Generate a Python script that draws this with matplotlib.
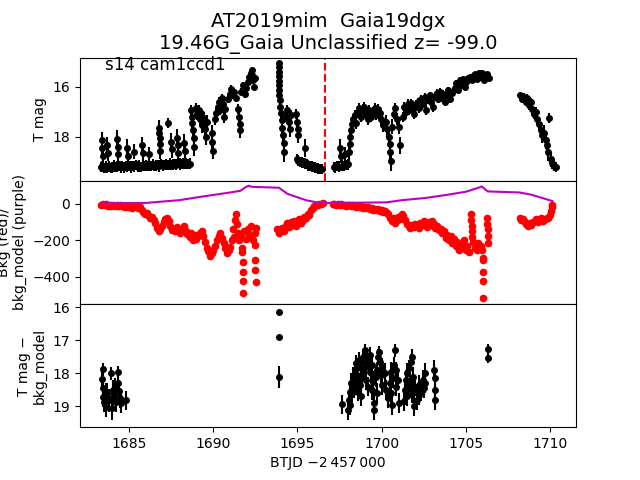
import numpy as np
import matplotlib
matplotlib.use("Agg")
import matplotlib.pyplot as plt

# ---- data (BTJD, T mag, error) ----
# orbit 1, quiet part
quiet_1 = [
    (1683.3, 19.22, 0.20), (1683.4, 19.18, 0.22), (1683.5, 19.25, 0.20), (1683.6, 19.20, 0.24), (1683.7, 19.23, 0.20),
    (1683.8, 19.19, 0.22), (1683.9, 19.24, 0.20), (1684.0, 19.21, 0.22), (1684.1, 19.17, 0.24), (1684.2, 19.22, 0.20),
    (1684.3, 19.20, 0.22), (1684.4, 19.16, 0.20), (1684.5, 19.21, 0.24), (1684.6, 19.18, 0.20), (1684.7, 19.22, 0.22),
    (1684.8, 19.15, 0.20), (1684.9, 19.19, 0.22), (1685.0, 19.17, 0.20), (1685.1, 19.21, 0.24), (1685.2, 19.16, 0.20),
    (1685.3, 19.18, 0.22), (1685.4, 19.14, 0.20), (1685.5, 19.19, 0.22), (1685.6, 19.16, 0.24), (1685.7, 19.20, 0.20),
    (1685.8, 19.13, 0.22), (1685.9, 19.17, 0.20), (1686.0, 19.15, 0.22), (1686.1, 19.18, 0.20), (1686.2, 19.12, 0.24),
    (1686.3, 19.16, 0.20), (1686.4, 19.12, 0.22), (1686.5, 19.17, 0.20), (1686.6, 19.14, 0.22), (1686.7, 19.11, 0.20),
    (1686.8, 19.15, 0.24), (1686.9, 19.10, 0.20), (1687.0, 19.14, 0.22), (1687.1, 19.12, 0.20), (1687.2, 19.09, 0.22),
    (1687.3, 19.13, 0.20), (1687.4, 19.08, 0.24), (1687.5, 19.12, 0.20), (1687.6, 19.10, 0.22), (1687.7, 19.07, 0.20),
    (1687.8, 19.11, 0.22), (1687.9, 19.06, 0.20), (1688.0, 19.10, 0.24), (1688.1, 19.08, 0.20), (1688.2, 19.05, 0.22),
    (1688.3, 19.09, 0.20), (1688.4, 19.06, 0.22), (1688.5, 19.10, 0.20), (1688.6, 19.07, 0.22),
    (1683.38, 18.15, 0.35), (1683.40, 18.45, 0.35), (1683.42, 18.75, 0.30),
    (1683.70, 18.35, 0.35), (1683.72, 18.65, 0.30),
    (1684.29, 18.10, 0.35), (1684.31, 18.40, 0.35), (1684.33, 18.70, 0.30),
    (1684.88, 18.45, 0.35), (1684.91, 18.75, 0.30), (1685.30, 18.60, 0.30),
    (1685.77, 18.35, 0.35), (1685.80, 18.65, 0.30), (1686.19, 18.70, 0.30),
    (1686.76, 17.65, 0.30), (1686.79, 17.85, 0.35), (1686.81, 18.05, 0.35), (1686.83, 18.30, 0.35), (1686.86, 18.55, 0.35),
    (1687.32, 17.45, 0.20), (1687.48, 18.20, 0.35), (1687.52, 18.50, 0.35),
    (1687.86, 18.05, 0.35), (1687.89, 18.35, 0.35), (1687.92, 18.65, 0.30),
    (1688.27, 18.25, 0.35), (1688.30, 18.55, 0.35),
]

# orbit 1, brightening
rise_1 = [
    (1688.70, 16.95, 0.20), (1688.73, 17.20, 0.25), (1688.75, 17.45, 0.30), (1688.79, 17.75, 0.30), (1688.83, 18.05, 0.35), (1688.87, 18.40, 0.35),
    (1689.00, 16.85, 0.20), (1689.05, 17.10, 0.25), (1689.13, 16.95, 0.20), (1689.20, 17.30, 0.25), (1689.27, 17.05, 0.20),
    (1689.35, 17.55, 0.30), (1689.43, 17.25, 0.25), (1689.50, 17.70, 0.30), (1689.57, 18.00, 0.35), (1689.63, 17.40, 0.25),
    (1689.92, 17.85, 0.30), (1689.95, 18.20, 0.35), (1689.97, 18.55, 0.35),
    (1690.12, 17.30, 0.25), (1690.19, 17.05, 0.20), (1690.27, 16.80, 0.20), (1690.35, 16.60, 0.20), (1690.42, 16.95, 0.20),
    (1690.49, 16.45, 0.15), (1690.57, 16.70, 0.20), (1690.65, 17.20, 0.25), (1690.72, 16.90, 0.20),
    (1690.87, 16.50, 0.15), (1690.97, 16.30, 0.15), (1691.07, 16.10, 0.15), (1691.15, 16.35, 0.15), (1691.22, 16.20, 0.15), (1691.32, 16.45, 0.15),
    (1691.47, 16.90, 0.20), (1691.52, 17.20, 0.25), (1691.57, 17.50, 0.25), (1691.59, 17.75, 0.30),
    (1691.67, 16.20, 0.15), (1691.77, 15.95, 0.15), (1691.87, 16.30, 0.15), (1691.95, 16.05, 0.15),
    (1692.07, 15.80, 0.12), (1692.15, 15.60, 0.12), (1692.22, 15.45, 0.10), (1692.27, 15.35, 0.10),
    (1692.32, 15.55, 0.12), (1692.37, 15.75, 0.12), (1692.42, 16.00, 0.12), (1692.47, 15.65, 0.12),
]

# orbit 1, after the gap
fade_1 = [
    (1693.90, 15.05, 0.08), (1693.90, 15.22, 0.08), (1693.91, 15.40, 0.09), (1693.91, 15.58, 0.09), (1693.92, 15.76, 0.10),
    (1693.92, 15.95, 0.10), (1693.93, 16.15, 0.12), (1693.93, 16.35, 0.12), (1693.94, 16.55, 0.14), (1693.95, 16.80, 0.15),
    (1694.02, 17.05, 0.20), (1694.06, 17.35, 0.25), (1694.10, 17.65, 0.30), (1694.14, 17.95, 0.30), (1694.18, 18.25, 0.35), (1694.22, 18.60, 0.40),
    (1694.30, 17.20, 0.20), (1694.40, 16.95, 0.20), (1694.48, 17.40, 0.25), (1694.55, 17.70, 0.30), (1694.60, 17.15, 0.20),
    (1694.93, 17.10, 0.20), (1694.98, 17.40, 0.25), (1695.02, 17.70, 0.30), (1695.06, 17.95, 0.30),
    (1694.95, 18.90, 0.20), (1695.05, 18.95, 0.22), (1695.15, 19.00, 0.20), (1695.25, 19.02, 0.22), (1695.35, 19.06, 0.20),
    (1695.42, 18.45, 0.35), (1695.45, 19.08, 0.22), (1695.55, 19.10, 0.20), (1695.65, 19.13, 0.22), (1695.75, 19.16, 0.20),
    (1695.85, 19.18, 0.22), (1695.95, 19.20, 0.20), (1696.05, 19.22, 0.22), (1696.15, 19.24, 0.20), (1696.25, 19.26, 0.22),
    (1696.35, 19.27, 0.20), (1696.45, 19.28, 0.20),
]

# orbit 2
orbit_2 = [
    (1697.15, 19.20, 0.20), (1697.25, 19.22, 0.22), (1697.35, 19.18, 0.20), (1697.45, 19.20, 0.22), (1697.55, 18.45, 0.35),
    (1697.58, 18.75, 0.30), (1697.65, 19.15, 0.22), (1697.75, 19.18, 0.20), (1697.85, 18.70, 0.30), (1697.90, 19.12, 0.20),
    (1698.00, 19.10, 0.22),
    (1698.05, 18.60, 0.35), (1698.10, 18.30, 0.30), (1698.15, 18.00, 0.30), (1698.20, 17.75, 0.25), (1698.25, 17.50, 0.25),
    (1698.32, 17.30, 0.20), (1698.40, 17.15, 0.20), (1698.48, 17.45, 0.25),
    (1698.58, 17.00, 0.20), (1698.68, 16.85, 0.20), (1698.78, 17.20, 0.20), (1698.88, 16.90, 0.20), (1698.98, 16.80, 0.20),
    (1699.08, 17.10, 0.20), (1699.18, 17.30, 0.25), (1699.28, 16.95, 0.20), (1699.38, 17.20, 0.20), (1699.48, 17.00, 0.20),
    (1699.58, 16.85, 0.20), (1699.68, 17.15, 0.20), (1699.78, 16.90, 0.20), (1699.88, 17.05, 0.20), (1699.98, 17.30, 0.25),
    (1700.08, 17.55, 0.25),
    (1700.27, 17.40, 0.25), (1700.35, 17.70, 0.30), (1700.42, 18.00, 0.30), (1700.47, 18.30, 0.35), (1700.52, 18.60, 0.35),
    (1700.57, 18.95, 0.40), (1700.62, 17.60, 0.30),
    (1700.72, 17.10, 0.20), (1700.82, 16.85, 0.20), (1700.92, 17.30, 0.25), (1701.02, 17.60, 0.30), (1701.07, 18.35, 0.35),
    (1701.25, 17.20, 0.20), (1701.35, 16.80, 0.20), (1701.45, 17.00, 0.20), (1701.55, 16.70, 0.20), (1701.65, 16.95, 0.20),
    (1701.75, 16.65, 0.15), (1701.85, 16.90, 0.20), (1701.95, 17.10, 0.20), (1702.05, 16.75, 0.20), (1702.15, 16.60, 0.15),
    (1702.25, 16.85, 0.20), (1702.35, 16.50, 0.15), (1702.45, 16.70, 0.15), (1702.55, 16.40, 0.15), (1702.65, 16.95, 0.20),
    (1702.75, 16.55, 0.15), (1702.85, 16.35, 0.15), (1702.95, 16.60, 0.15), (1703.05, 16.80, 0.20),
    (1703.17, 16.40, 0.15), (1703.27, 16.25, 0.15), (1703.37, 16.50, 0.15), (1703.47, 16.20, 0.15), (1703.57, 16.45, 0.15),
    (1703.67, 16.30, 0.15), (1703.77, 16.60, 0.15), (1703.87, 16.35, 0.15), (1703.97, 16.15, 0.15), (1704.07, 16.50, 0.15),
    (1704.17, 16.25, 0.15),
    (1704.34, 16.05, 0.12), (1704.44, 15.85, 0.12), (1704.54, 16.15, 0.12), (1704.64, 15.75, 0.12), (1704.74, 15.95, 0.12),
    (1704.84, 15.70, 0.12), (1704.94, 16.00, 0.12), (1705.04, 15.80, 0.12), (1705.14, 15.65, 0.12),
    (1705.26, 15.60, 0.10), (1705.36, 15.75, 0.10), (1705.46, 15.55, 0.10), (1705.56, 15.50, 0.10), (1705.66, 15.70, 0.10),
    (1705.76, 15.45, 0.10), (1705.86, 15.60, 0.10), (1705.96, 15.45, 0.10), (1706.06, 15.75, 0.10), (1706.16, 15.55, 0.10),
    (1706.26, 15.50, 0.10), (1706.36, 15.65, 0.10),
    (1708.25, 16.35, 0.15), (1708.35, 16.50, 0.15), (1708.45, 16.40, 0.15), (1708.55, 16.60, 0.15), (1708.65, 16.45, 0.15),
    (1708.75, 16.75, 0.20), (1708.85, 16.60, 0.15),
    (1708.95, 16.90, 0.20), (1709.05, 17.10, 0.20), (1709.15, 17.00, 0.20), (1709.25, 17.30, 0.25), (1709.35, 17.50, 0.25),
    (1709.45, 17.75, 0.30), (1709.55, 17.95, 0.30), (1709.65, 17.85, 0.30), (1709.75, 18.15, 0.35), (1709.85, 18.35, 0.35),
    (1709.90, 18.60, 0.35), (1709.95, 17.25, 0.20),
    (1710.05, 18.90, 0.30), (1710.15, 19.05, 0.25), (1710.25, 19.15, 0.22), (1710.35, 19.20, 0.20),
]

# background flux (red points), (BTJD, counts)
bkg_orbit_1 = [
    (1683.35, -5), (1683.45, 0), (1683.55, -8), (1683.65, -3), (1683.75, -10), (1683.85, -5), (1683.95, -12),
    (1684.05, -6), (1684.15, -10), (1684.25, -4), (1684.35, -12), (1684.45, -8), (1684.55, -14),
    (1684.65, -10), (1684.75, -18), (1684.85, -12), (1684.95, -20), (1685.05, -14), (1685.15, -22), (1685.25, -16),
    (1685.35, -10), (1685.45, -18), (1685.55, -25), (1685.65, -20),
    (1685.75, -35), (1685.85, -45), (1685.95, -55), (1686.05, -50), (1686.15, -65), (1686.25, -75), (1686.35, -70),
    (1686.45, -90), (1686.55, -105),
    (1686.65, -130), (1686.75, -150), (1686.85, -140), (1686.95, -120), (1687.05, -100), (1687.15, -85), (1687.25, -80),
    (1687.35, -95), (1687.45, -120),
    (1687.55, -145), (1687.65, -135), (1687.75, -150), (1687.85, -125), (1687.95, -140), (1688.05, -160), (1688.15, -135),
    (1688.25, -120), (1688.35, -150), (1688.45, -165),
    (1688.6, -180), (1688.7, -160), (1688.8, -200), (1688.9, -170), (1689.0, -190), (1689.1, -175), (1689.2, -160), (1689.3, -150),
    (1689.4, -175), (1689.5, -210), (1689.6, -240), (1689.7, -260), (1689.8, -285), (1689.9, -270), (1690.0, -250), (1690.1, -230),
    (1690.22, -200), (1690.32, -175), (1690.42, -160), (1690.52, -185), (1690.62, -215), (1690.72, -240), (1690.82, -270),
    (1690.92, -255), (1691.02, -235),
    (1691.2, -140), (1691.3, -90), (1691.35, -55), (1691.4, -110),
    (1691.1, -200), (1691.25, -180), (1691.45, -160), (1691.55, -200), (1691.65, -170), (1691.85, -150), (1691.95, -190),
    (1692.05, -140), (1692.15, -170), (1692.25, -120), (1692.35, -200), (1692.45, -160), (1692.55, -130),
    (1691.73, -240), (1691.73, -265), (1691.74, -320), (1691.75, -375), (1691.76, -420), (1691.77, -490),
    (1692.50, -310), (1692.50, -360), (1692.51, -430), (1692.48, -225),
    (1693.8, -140), (1693.9, -160), (1694.0, -145), (1694.1, -130), (1694.2, -150), (1694.3, -120), (1694.4, -105),
    (1694.5, -125), (1694.6, -100), (1694.7, -115), (1694.8, -95), (1694.9, -120), (1695.0, -100), (1695.1, -85),
    (1695.2, -105), (1695.3, -90), (1695.4, -70), (1695.5, -80), (1695.6, -55), (1695.7, -60), (1695.8, -35),
    (1695.9, -25), (1696.0, -12), (1696.1, -5), (1696.2, -8), (1696.3, 0), (1696.4, -3), (1696.5, 2),
]

bkg_orbit_2 = [
    (1697.1, -2), (1697.2, 0), (1697.3, -5), (1697.4, -3), (1697.5, -8), (1697.6, -2), (1697.7, -6), (1697.8, -4),
    (1697.9, -10), (1698.0, -5), (1698.1, -8), (1698.2, -12), (1698.3, -6), (1698.4, -10), (1698.5, -15),
    (1698.6, -10), (1698.7, -18), (1698.8, -12), (1698.9, -22), (1699.0, -16), (1699.1, -25), (1699.2, -20),
    (1699.3, -28), (1699.4, -22), (1699.5, -32), (1699.6, -26), (1699.7, -35), (1699.8, -30), (1699.9, -40),
    (1700.0, -34), (1700.1, -45), (1700.2, -38), (1700.3, -50),
    (1700.4, -55), (1700.5, -75), (1700.6, -95), (1700.7, -80), (1700.8, -105), (1700.9, -90), (1701.0, -70),
    (1701.1, -85), (1701.2, -55), (1701.3, -65), (1701.4, -90), (1701.5, -110), (1701.6, -120), (1701.7, -130),
    (1701.8, -115), (1701.9, -125), (1702.0, -110), (1702.1, -120), (1702.2, -130), (1702.3, -105), (1702.4, -115),
    (1702.5, -95), (1702.6, -110), (1702.7, -125), (1702.8, -100), (1702.9, -115), (1703.0, -95), (1703.1, -110),
    (1703.2, -130), (1703.3, -120), (1703.4, -145),
    (1703.5, -135), (1703.6, -160), (1703.7, -150), (1703.8, -185), (1703.9, -170), (1704.0, -200), (1704.1, -175),
    (1704.2, -215), (1704.3, -195), (1704.4, -230), (1704.5, -210), (1704.6, -250), (1704.7, -240), (1704.8, -225),
    (1704.9, -200), (1705.0, -250), (1705.1, -230), (1705.2, -265),
    (1705.3, -55), (1705.32, -90), (1705.35, -120), (1705.38, -150), (1705.4, -180), (1705.45, -210),
    (1705.55, -240), (1705.65, -255), (1705.75, -215), (1705.85, -245), (1705.92, -230),
    (1706.0, -295), (1706.0, -310), (1706.01, -375), (1706.02, -420), (1706.03, -515), (1705.98, -255),
    (1706.28, -80), (1706.29, -110), (1706.3, -140), (1706.31, -175), (1706.32, -215),
    (1708.2, -80), (1708.3, -90), (1708.4, -85), (1708.5, -100), (1708.6, -110), (1708.7, -120), (1708.8, -105),
    (1708.9, -115), (1709.0, -100), (1709.1, -95), (1709.2, -85), (1709.3, -100), (1709.4, -90), (1709.5, -80),
    (1709.6, -95), (1709.7, -85), (1709.8, -75), (1709.9, -80), (1710.0, -60), (1710.05, -40), (1710.1, -20), (1710.15, -5),
]

# background model (purple line)
model_t = [1683.4, 1686.0, 1687.98, 1689.5, 1690.7, 1691.6, 1691.95, 1692.1, 1692.3, 1693.9, 1694.4, 1695.5, 1696.3,
           1697.5, 1700.3, 1701.2, 1702.6, 1703.8, 1705.0, 1705.75, 1705.95, 1706.3, 1708.2, 1708.9, 1710.15]
model_val = [3, 5, 20, 42, 58, 71, 93, 99, 93, 88, 55, 20, 5,
             5, 8, 20, 32, 48, 66, 88, 95, 68, 62, 50, 15]

# T mag - bkg_model
diff_pts = [
    (1683.41, 18.18, 0.25), (1683.43, 18.45, 0.25), (1683.45, 18.72, 0.30), (1683.47, 17.88, 0.20), (1683.53, 18.88, 0.30),
    (1683.60, 18.60, 0.30), (1683.65, 19.03, 0.30), (1683.71, 18.60, 0.30), (1683.82, 18.82, 0.35), (1683.94, 18.00, 0.20),
    (1684.00, 18.76, 0.30), (1684.00, 19.06, 0.35), (1684.06, 18.50, 0.30), (1684.12, 18.67, 0.30), (1684.18, 18.45, 0.30),
    (1684.24, 18.88, 0.30), (1684.35, 17.97, 0.20), (1684.35, 18.30, 0.25), (1684.41, 18.52, 0.30), (1684.47, 18.75, 0.30),
    (1684.53, 18.90, 0.30), (1684.82, 18.82, 0.30),
    (1693.90, 16.15, 0.05), (1693.91, 16.90, 0.07), (1693.92, 18.10, 0.33),
    (1697.62, 18.94, 0.28), (1698.00, 19.12, 0.30), (1698.05, 18.80, 0.30), (1698.10, 18.55, 0.30), (1698.15, 18.95, 0.30),
    (1698.20, 18.30, 0.30), (1698.25, 18.60, 0.30), (1698.30, 18.10, 0.30), (1698.35, 18.45, 0.30), (1698.40, 17.90, 0.25),
    (1698.45, 18.20, 0.30), (1698.50, 17.70, 0.25), (1698.55, 18.05, 0.30), (1698.60, 18.55, 0.30), (1698.65, 17.60, 0.25),
    (1698.70, 18.35, 0.30), (1698.75, 17.85, 0.25), (1698.80, 18.70, 0.30), (1698.85, 18.10, 0.30), (1698.90, 17.50, 0.25),
    (1698.95, 17.95, 0.25), (1699.00, 17.30, 0.20), (1699.05, 17.70, 0.25), (1699.10, 18.20, 0.30), (1699.15, 17.55, 0.25),
    (1699.20, 18.40, 0.30), (1699.25, 17.80, 0.25), (1699.30, 17.45, 0.25), (1699.35, 18.00, 0.30), (1699.40, 18.50, 0.30),
    (1699.45, 17.75, 0.25), (1699.50, 18.25, 0.30), (1699.55, 18.90, 0.30), (1699.57, 19.10, 0.30), (1699.65, 18.10, 0.30),
    (1699.70, 18.60, 0.30), (1699.75, 17.90, 0.25), (1699.80, 17.50, 0.25), (1699.85, 17.36, 0.20), (1699.90, 17.65, 0.25),
    (1699.95, 18.05, 0.30), (1700.00, 17.80, 0.25), (1700.05, 18.35, 0.30), (1700.18, 18.00, 0.30), (1700.28, 18.50, 0.30),
    (1700.38, 18.75, 0.30), (1700.48, 18.30, 0.30), (1700.53, 17.95, 0.30), (1700.58, 18.60, 0.30), (1700.63, 18.95, 0.30),
    (1700.68, 18.15, 0.30), (1700.73, 17.75, 0.25), (1700.78, 17.30, 0.20), (1700.83, 17.90, 0.25), (1700.88, 18.40, 0.30),
    (1700.98, 18.20, 0.30), (1701.06, 18.90, 0.30), (1701.33, 18.85, 0.30), (1701.38, 18.50, 0.30), (1701.43, 18.20, 0.30),
    (1701.48, 18.70, 0.30), (1701.53, 18.00, 0.30), (1701.58, 18.45, 0.30), (1701.63, 17.85, 0.25), (1701.68, 18.25, 0.30),
    (1701.73, 17.65, 0.25), (1701.78, 18.60, 0.30), (1701.83, 17.50, 0.25), (1701.88, 18.10, 0.30), (1701.93, 19.00, 0.30),
    (1701.98, 18.40, 0.30), (1702.10, 18.80, 0.30), (1702.20, 18.35, 0.30), (1702.25, 18.65, 0.30), (1702.35, 18.55, 0.30),
    (1702.45, 18.20, 0.30), (1702.50, 18.45, 0.30), (1702.55, 18.00, 0.30), (1702.60, 18.30, 0.30),
    (1703.14, 17.90, 0.30), (1703.15, 18.15, 0.30), (1703.15, 18.50, 0.30), (1703.16, 18.80, 0.30),
    (1706.31, 17.27, 0.15), (1706.32, 17.55, 0.15),
]

eclipse_t = 1696.65
title = "AT2019mim  Gaia19dgx\n19.46G_Gaia Unclassified z= -99.0"
label = "s14 cam1ccd1"


def as_cols(rows):
    return np.array(rows, dtype=float).T


fig, axes = plt.subplots(3, 1, sharex=True, figsize=(6.4, 4.8), dpi=100)
plt.subplots_adjust(hspace=0)
ax1, ax2, ax3 = axes

# top: light curve
for seg in (quiet_1, rise_1, fade_1, orbit_2):
    t, m, e = as_cols(seg)
    ax1.errorbar(t, m, yerr=e, fmt='o', color='k', ms=4)
ax1.axvline(eclipse_t, color='r', ls='--')
ax1.set_ylim(19.76, 14.84)
ax1.set_yticks([16, 18])
ax1.set_ylabel('T mag')
ax1.set_title(title, fontsize=14)
ax1.text(0.05, 0.9, label, transform=ax1.transAxes, fontsize=12)

# middle: background
for seg in (bkg_orbit_1, bkg_orbit_2):
    t, b = as_cols(seg)
    ax2.plot(t, b, 'o', color='r', ms=4.5)
ax2.plot(model_t, model_val, '-', color='m')
ax2.set_ylim(-548, 126)
ax2.set_yticks([0, -200, -400])
ax2.set_ylabel('Bkg (red)/\nbkg_model (purple)')

# bottom: difference
t, m, e = as_cols(diff_pts)
ax3.errorbar(t, m, yerr=e, fmt='o', color='k', ms=4)
ax3.set_ylim(19.63, 15.9)
ax3.set_yticks([16, 17, 18, 19])
ax3.set_ylabel('T mag \u2212\nbkg_model')

ax3.set_xlim(1682.08, 1711.55)
ax3.set_xticks([1685, 1690, 1695, 1700, 1705, 1710])
ax3.set_xlabel('BTJD \u22122\u2009457\u2009000')

fig.savefig('out.png', dpi=100)
